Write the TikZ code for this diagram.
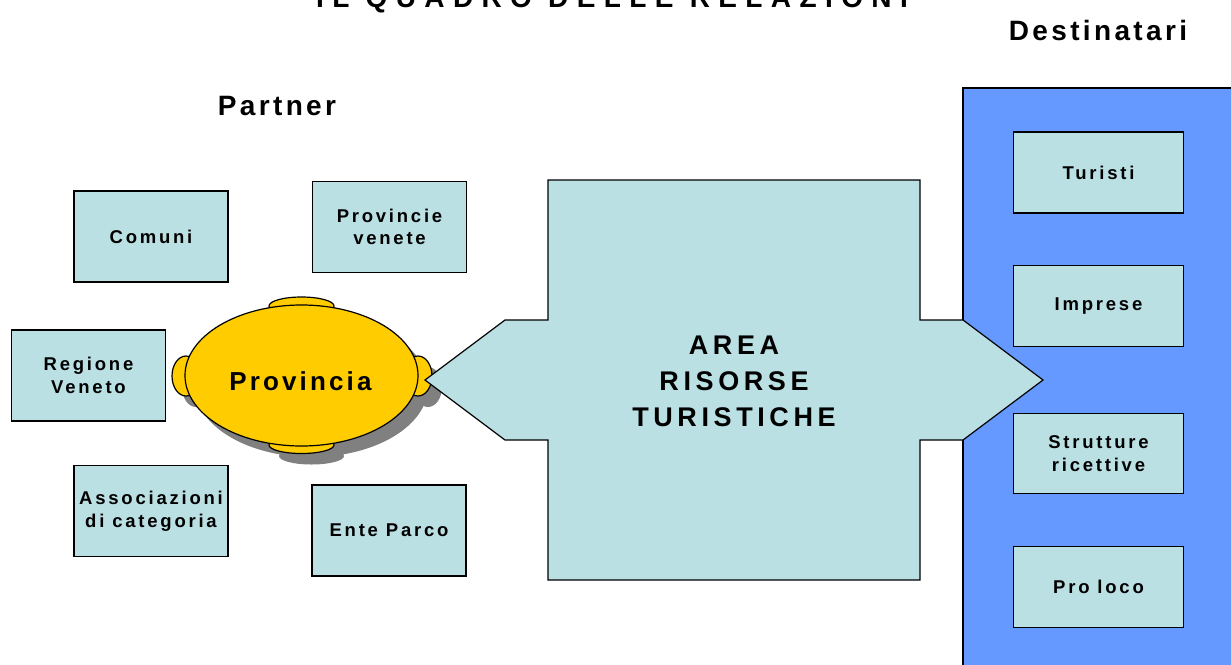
\documentclass[tikz,border=0pt]{standalone}
\usepackage{fontspec}
\setmainfont{Liberation Sans}
\usetikzlibrary{positioning}

\newfontfamily\boxfont[LetterSpace=15]{Liberation Sans}
\newfontfamily\headfont[LetterSpace=12]{Liberation Sans}
\newfontfamily\areafont[LetterSpace=17]{Liberation Sans}
\newfontfamily\titlefont[LetterSpace=30]{Liberation Sans}

\definecolor{paleblue}{HTML}{BBE0E3}
\definecolor{destblue}{HTML}{6699FF}
\definecolor{provyellow}{HTML}{FFCC00}
\definecolor{shadowgrey}{HTML}{808080}

\begin{document}
\begin{tikzpicture}[
    x = 1pt, y = -1pt, % pixel coordinates, y going down
    line width = 1.2pt, % outline style
    ]

    \tikzset{
    partnerbox/.style = {draw = black, fill = paleblue, align = center,
        minimum width = 154pt, minimum height = 91pt,
        font = \boxfont\bfseries\fontsize{18.5}{22.5}\selectfont},
    destbox/.style = {partnerbox, minimum width = 170pt, minimum height = 81pt},
    heading/.style = {anchor = base, font = \headfont\bfseries\fontsize{28}{34}\selectfont}
    }

    \useasboundingbox (0,0) rectangle (1231,664);
    \clip (0,0) rectangle (1231,664);

    % titles
    \node[anchor = base, font = \titlefont\bfseries\fontsize{28}{34}\selectfont] (title) at (612,7) {IL QUADRO DELLE RELAZIONI};
    \node[heading] (partner) at (277,115) {Partner};
    \node[heading] (destinatari) at (1098,40) {Destinatari};

    % destinatari panel
    \draw[fill = destblue] (963,88) rectangle (1250,690);

    % Provincia: shadow, tabs, body
    \fill[shadowgrey, shift = {(10,11)}]
        (301.5,375.5) ellipse [x radius = 116.5pt, y radius = 70.5pt]
        (301.5,306) ellipse [x radius = 32.5pt, y radius = 9pt]
        (301.5,445) ellipse [x radius = 32.5pt, y radius = 8.5pt]
        (186,376) ellipse [x radius = 14pt, y radius = 20pt]
        (418,376) ellipse [x radius = 14pt, y radius = 20pt];
    \foreach \cx/\cy/\rx/\ry in {301.5/306/32.5/9, 301.5/445/32.5/8.5, 186/376/14/20, 418/376/14/20}
        \draw[fill = provyellow] (\cx,\cy) ellipse [x radius = \rx pt, y radius = \ry pt];
    \draw[fill = provyellow] (301.5,375.5) ellipse [x radius = 116.5pt, y radius = 70.5pt];
    \node[font = \headfont\bfseries\fontsize{26}{31}\selectfont, inner sep = 0pt] (provincia) at (300.5,381.5) {Provincia};

    % area risorse turistiche
    \draw[fill = paleblue, line join = miter]
        (548,180) -- (920,180) -- (920,320) -- (963,320) -- (1043,380) -- (963,440) -- (920,440)
        -- (920,580) -- (548,580) -- (548,440) -- (505,440) -- (425,380) -- (505,320) -- (548,320) -- cycle;
    \node[align = center, font = \areafont\bfseries\fontsize{27}{36}\selectfont] (area) at (734,381) {AREA\\RISORSE\\TURISTICHE};

    % partner
    \node[partnerbox] (comuni) at (151,236.5) {Comuni};
    \node[partnerbox] (provincie) at (389.5,227) {Provincie\\venete};
    \node[partnerbox] (regione) at (88.5,375.5) {Regione\\Veneto};
    \node[partnerbox] (associazioni) at (151,511) {Associazioni\\di categoria};
    \node[partnerbox] (parco) at (389,530.5) {Ente Parco};

    % destinatari
    \node[destbox] (turisti) at (1098.5,172.5) {Turisti};
    \node[destbox] (imprese) [below = 51pt of turisti] {Imprese};
    \node[destbox, minimum height = 80pt] (strutture) [below = 66pt of imprese] {Strutture\\ricettive};
    \node[destbox] (proloco) [below = 52pt of strutture] {Pro loco};
\end{tikzpicture}
\end{document}
